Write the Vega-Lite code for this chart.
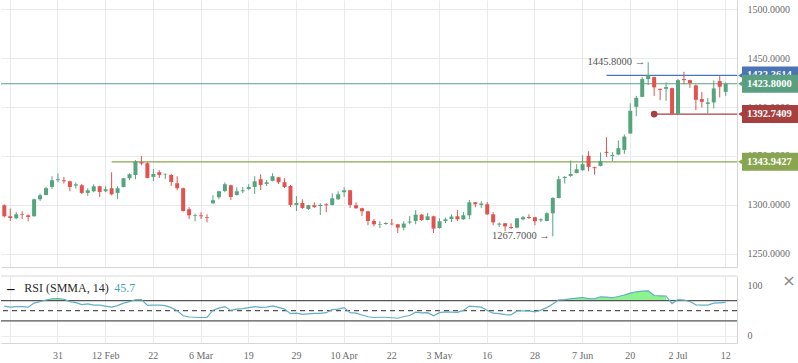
{
  "$schema": "https://vega.github.io/schema/vega-lite/v6.json",
  "padding": 0,
  "background": "white",
  "spacing": 5,
  "config": {
    "view": {"stroke": null},
    "axis": {"labelFont": "Liberation Serif", "labelFontSize": 10, "labelColor": "#6b6b6b", "gridColor": "#e8eaed", "domainColor": "#d6d6d6", "ticks": false},
    "text": {"font": "Liberation Serif"}
  },
  "datasets": {
    "bars": [
      {"d":"2019-01-18","o":1299.5,"h":1300.5,"l":1287,"c":1288.2,"r":59},
      {"d":"2019-01-21","o":1288.2,"h":1296.1,"l":1283.4,"c":1286.4,"r":57},
      {"d":"2019-01-22","o":1286.1,"h":1292.6,"l":1285.1,"c":1290.2,"r":58},
      {"d":"2019-01-23","o":1290.2,"h":1293.3,"l":1285.4,"c":1289.5,"r":58},
      {"d":"2019-01-24","o":1289.2,"h":1290.2,"l":1283.1,"c":1287.5,"r":57},
      {"d":"2019-01-25","o":1288.2,"h":1306.3,"l":1288,"c":1305.6,"r":65},
      {"d":"2019-01-28","o":1305.6,"h":1311.4,"l":1303.9,"c":1309.7,"r":68},
      {"d":"2019-01-29","o":1310,"h":1318.2,"l":1309.7,"c":1316.9,"r":71},
      {"d":"2019-01-30","o":1318.2,"h":1329.2,"l":1316.2,"c":1325.1,"r":73.5},
      {"d":"2019-01-31","o":1325.1,"h":1332.2,"l":1323,"c":1326.1,"r":74},
      {"d":"2019-02-01","o":1325.1,"h":1328.5,"l":1321.7,"c":1324,"r":72.5},
      {"d":"2019-02-04","o":1324,"h":1324.5,"l":1313.8,"c":1318.2,"r":68},
      {"d":"2019-02-05","o":1319.6,"h":1322.7,"l":1316.6,"c":1320.9,"r":66},
      {"d":"2019-02-06","o":1319.9,"h":1321.3,"l":1311,"c":1312.1,"r":62},
      {"d":"2019-02-07","o":1312.1,"h":1316.9,"l":1309,"c":1314.8,"r":63.5},
      {"d":"2019-02-08","o":1313.8,"h":1321,"l":1312.8,"c":1318.9,"r":61},
      {"d":"2019-02-11","o":1318.9,"h":1319.5,"l":1308,"c":1313.1,"r":61},
      {"d":"2019-02-12","o":1313.8,"h":1318.9,"l":1312.8,"c":1315.9,"r":59},
      {"d":"2019-02-13","o":1316.9,"h":1333.3,"l":1309.7,"c":1310.7,"r":57},
      {"d":"2019-02-14","o":1312.1,"h":1318.9,"l":1305.6,"c":1316.9,"r":60},
      {"d":"2019-02-15","o":1318.2,"h":1327.5,"l":1317.8,"c":1327.1,"r":65},
      {"d":"2019-02-18","o":1327.1,"h":1332.2,"l":1325.1,"c":1331.2,"r":68},
      {"d":"2019-02-19","o":1330.5,"h":1345.6,"l":1326.1,"c":1344.5,"r":71.5},
      {"d":"2019-02-20","o":1343.5,"h":1349.7,"l":1340.4,"c":1342.2,"r":72},
      {"d":"2019-02-21","o":1342.5,"h":1343.5,"l":1327,"c":1327.4,"r":60.5},
      {"d":"2019-02-22","o":1328.5,"h":1336.4,"l":1324,"c":1331.5,"r":61},
      {"d":"2019-02-25","o":1333.3,"h":1335.3,"l":1327.4,"c":1330.5,"r":61},
      {"d":"2019-02-26","o":1331,"h":1332.2,"l":1326.4,"c":1331.5,"r":60},
      {"d":"2019-02-27","o":1330.5,"h":1331.5,"l":1319.2,"c":1323.3,"r":56},
      {"d":"2019-02-28","o":1322,"h":1329.2,"l":1314.8,"c":1316.9,"r":50},
      {"d":"2019-03-01","o":1316.9,"h":1317.5,"l":1293,"c":1293.6,"r":40},
      {"d":"2019-03-04","o":1295.4,"h":1297.4,"l":1285.4,"c":1289.2,"r":37.5},
      {"d":"2019-03-05","o":1288.5,"h":1290.9,"l":1283.1,"c":1289.2,"r":37},
      {"d":"2019-03-06","o":1289.2,"h":1292.3,"l":1285.4,"c":1288.2,"r":36.5},
      {"d":"2019-03-07","o":1287.2,"h":1290.2,"l":1282,"c":1286.5,"r":36.5},
      {"d":"2019-03-08","o":1301.5,"h":1309.7,"l":1301,"c":1304.6,"r":51},
      {"d":"2019-03-12","o":1307.7,"h":1314.3,"l":1305.6,"c":1313.8,"r":55},
      {"d":"2019-03-13","o":1314.1,"h":1323,"l":1312.8,"c":1321,"r":58},
      {"d":"2019-03-14","o":1319.9,"h":1320.5,"l":1304.9,"c":1308,"r":50.5},
      {"d":"2019-03-15","o":1310,"h":1317.9,"l":1309.5,"c":1313.8,"r":53},
      {"d":"2019-03-18","o":1313.8,"h":1318.2,"l":1312.1,"c":1314.8,"r":54},
      {"d":"2019-03-19","o":1316.2,"h":1321,"l":1314.8,"c":1318.2,"r":56},
      {"d":"2019-03-20","o":1318.2,"h":1329.2,"l":1311,"c":1324,"r":58},
      {"d":"2019-03-21","o":1326.1,"h":1331.2,"l":1315.1,"c":1320.3,"r":56.5},
      {"d":"2019-03-22","o":1321.3,"h":1325.1,"l":1319.2,"c":1323,"r":57},
      {"d":"2019-03-25","o":1324.4,"h":1332.2,"l":1324,"c":1329.2,"r":59.5},
      {"d":"2019-03-26","o":1328.1,"h":1328.5,"l":1321.3,"c":1323,"r":56.5},
      {"d":"2019-03-27","o":1323,"h":1327.1,"l":1317.2,"c":1318.2,"r":53},
      {"d":"2019-03-28","o":1319.2,"h":1320.3,"l":1297.7,"c":1299.8,"r":44},
      {"d":"2019-03-29","o":1299.8,"h":1308.7,"l":1293.6,"c":1301.8,"r":45},
      {"d":"2019-04-01","o":1301.8,"h":1305.6,"l":1295.7,"c":1296.7,"r":42.5},
      {"d":"2019-04-02","o":1295.7,"h":1300,"l":1294.6,"c":1299.5,"r":43.5},
      {"d":"2019-04-03","o":1299.5,"h":1302.5,"l":1296.7,"c":1297.7,"r":44.5},
      {"d":"2019-04-04","o":1298.7,"h":1301.5,"l":1289.5,"c":1299.8,"r":44.5},
      {"d":"2019-04-05","o":1300.5,"h":1301.5,"l":1292.3,"c":1299.5,"r":46},
      {"d":"2019-04-08","o":1299.8,"h":1311.7,"l":1299.3,"c":1306.6,"r":52},
      {"d":"2019-04-09","o":1305.6,"h":1313.8,"l":1305,"c":1310.7,"r":53},
      {"d":"2019-04-10","o":1312.8,"h":1317.9,"l":1308,"c":1314.8,"r":56},
      {"d":"2019-04-11","o":1314.8,"h":1315.3,"l":1296.7,"c":1299.8,"r":46},
      {"d":"2019-04-12","o":1299.5,"h":1302.5,"l":1296,"c":1296.4,"r":45},
      {"d":"2019-04-15","o":1296.4,"h":1297,"l":1288.5,"c":1293.3,"r":41.5},
      {"d":"2019-04-16","o":1293.3,"h":1294,"l":1279,"c":1283.4,"r":38},
      {"d":"2019-04-17","o":1283.4,"h":1285.4,"l":1277.9,"c":1280,"r":36.5},
      {"d":"2019-04-18","o":1279.7,"h":1283.1,"l":1276.2,"c":1280.3,"r":37},
      {"d":"2019-04-19","o":1280.3,"h":1282,"l":1279.5,"c":1281.3,"r":37},
      {"d":"2019-04-22","o":1280.7,"h":1285.4,"l":1279,"c":1280,"r":36},
      {"d":"2019-04-23","o":1280,"h":1280.5,"l":1271.1,"c":1276.6,"r":35},
      {"d":"2019-04-24","o":1276.6,"h":1283.1,"l":1273.8,"c":1280.7,"r":38.5},
      {"d":"2019-04-25","o":1281.8,"h":1288.5,"l":1280,"c":1282.8,"r":40.5},
      {"d":"2019-04-29","o":1283.4,"h":1294.6,"l":1280,"c":1289.9,"r":47},
      {"d":"2019-04-30","o":1289.9,"h":1290.5,"l":1283.5,"c":1284.4,"r":45.5},
      {"d":"2019-05-01","o":1284.4,"h":1291.6,"l":1284,"c":1288.2,"r":46},
      {"d":"2019-05-02","o":1288.2,"h":1288.8,"l":1271.1,"c":1275.6,"r":40},
      {"d":"2019-05-03","o":1276.2,"h":1286.1,"l":1275.6,"c":1283.1,"r":46},
      {"d":"2019-05-06","o":1283.4,"h":1286.9,"l":1281.3,"c":1285.1,"r":47.5},
      {"d":"2019-05-07","o":1285.4,"h":1290.2,"l":1282.3,"c":1287.9,"r":47},
      {"d":"2019-05-08","o":1288.2,"h":1294.6,"l":1283.4,"c":1285.1,"r":46.5},
      {"d":"2019-05-09","o":1285.1,"h":1292.6,"l":1284.5,"c":1289.2,"r":50.5},
      {"d":"2019-05-13","o":1289.2,"h":1304.9,"l":1285.4,"c":1302.5,"r":59},
      {"d":"2019-05-14","o":1302.5,"h":1303,"l":1297.4,"c":1300.5,"r":58},
      {"d":"2019-05-15","o":1299.8,"h":1303.6,"l":1296.7,"c":1301.2,"r":57},
      {"d":"2019-05-16","o":1300.5,"h":1302.8,"l":1289.7,"c":1290.2,"r":50.5},
      {"d":"2019-05-17","o":1290.2,"h":1292.3,"l":1279,"c":1282,"r":45},
      {"d":"2019-05-20","o":1279.7,"h":1282,"l":1277.2,"c":1280.7,"r":44},
      {"d":"2019-05-21","o":1281,"h":1281.5,"l":1273.1,"c":1277.9,"r":42},
      {"d":"2019-05-22","o":1277.2,"h":1281,"l":1275.2,"c":1276.2,"r":41.5},
      {"d":"2019-05-23","o":1276.6,"h":1286.6,"l":1276,"c":1286.1,"r":49.5},
      {"d":"2019-05-24","o":1285.1,"h":1288.5,"l":1284.1,"c":1287.2,"r":49.7},
      {"d":"2019-05-27","o":1287.5,"h":1290.2,"l":1285.4,"c":1286.5,"r":49.7},
      {"d":"2019-05-28","o":1287.2,"h":1287.7,"l":1279,"c":1283.1,"r":47.5},
      {"d":"2019-05-29","o":1284.1,"h":1286.1,"l":1282.3,"c":1285.1,"r":51},
      {"d":"2019-05-30","o":1283.4,"h":1292.3,"l":1283,"c":1291.3,"r":56},
      {"d":"2019-05-31","o":1291.3,"h":1307.7,"l":1267.7,"c":1306.9,"r":63},
      {"d":"2019-06-03","o":1306.9,"h":1329.5,"l":1306.5,"c":1326.1,"r":71.4},
      {"d":"2019-06-04","o":1327.4,"h":1329.5,"l":1321.7,"c":1328.5,"r":72},
      {"d":"2019-06-05","o":1329.5,"h":1345.3,"l":1328.5,"c":1331.5,"r":73.5},
      {"d":"2019-06-06","o":1332.5,"h":1341.5,"l":1332,"c":1336.3,"r":74.8},
      {"d":"2019-06-07","o":1335.3,"h":1350.7,"l":1335,"c":1341.5,"r":76},
      {"d":"2019-06-10","o":1350,"h":1354.8,"l":1334.3,"c":1338.7,"r":73.8},
      {"d":"2019-06-11","o":1338.4,"h":1339,"l":1330.9,"c":1337.4,"r":73.5},
      {"d":"2019-06-12","o":1339.7,"h":1353.5,"l":1339.2,"c":1344.5,"r":77.4},
      {"d":"2019-06-13","o":1354.1,"h":1369.1,"l":1348.9,"c":1353.1,"r":76.7},
      {"d":"2019-06-17","o":1350,"h":1353.8,"l":1344.5,"c":1351,"r":75.5},
      {"d":"2019-06-18","o":1351.4,"h":1365.8,"l":1351,"c":1357.9,"r":78},
      {"d":"2019-06-19","o":1356.1,"h":1371.9,"l":1352,"c":1369.8,"r":81},
      {"d":"2019-06-20","o":1372.9,"h":1403.7,"l":1372.5,"c":1396.1,"r":84.7},
      {"d":"2019-06-21","o":1400.2,"h":1411.4,"l":1390.6,"c":1409.4,"r":87.3},
      {"d":"2019-06-24","o":1410.4,"h":1430.6,"l":1410,"c":1428.6,"r":88.5},
      {"d":"2019-06-25","o":1428.6,"h":1445.8,"l":1422.4,"c":1432.7,"r":89},
      {"d":"2019-06-26","o":1430.6,"h":1431,"l":1411.4,"c":1420.1,"r":80},
      {"d":"2019-06-27","o":1418.6,"h":1419,"l":1407,"c":1417.6,"r":79.4},
      {"d":"2019-06-28","o":1418.6,"h":1425.2,"l":1406.3,"c":1420.4,"r":79},
      {"d":"2019-07-01","o":1419.3,"h":1419.8,"l":1392.4,"c":1393,"r":64},
      {"d":"2019-07-02","o":1393,"h":1428.6,"l":1392.7,"c":1427.5,"r":72},
      {"d":"2019-07-03","o":1428.6,"h":1436,"l":1423.4,"c":1427.5,"r":71},
      {"d":"2019-07-04","o":1427.5,"h":1428,"l":1419.6,"c":1424.5,"r":68},
      {"d":"2019-07-05","o":1422.1,"h":1423.1,"l":1396.8,"c":1407.4,"r":61.5},
      {"d":"2019-07-08","o":1408.1,"h":1415.5,"l":1399.6,"c":1405.3,"r":61},
      {"d":"2019-07-09","o":1403.2,"h":1409.1,"l":1393.4,"c":1404.7,"r":61},
      {"d":"2019-07-10","o":1404.7,"h":1427.2,"l":1398.5,"c":1419,"r":64.9},
      {"d":"2019-07-11","o":1426.5,"h":1431.6,"l":1409.8,"c":1420.7,"r":65.5},
      {"d":"2019-07-12","o":1415.5,"h":1425.2,"l":1411.4,"c":1423.8,"r":66.2}
    ],
    "levels": [
      {"lvl":"olive","p":1343.9427,"d":"2019-02-13"},
      {"lvl":"red","p":1392.7409,"d":"2019-06-26"},
      {"lvl":"blue","p":1432.3614,"d":"2019-06-13"}
    ],
    "current": [{"p":1423.8}],
    "notes": [
      {"d":"2019-06-25","p":1445.8,"t":"1445.8000 →"},
      {"d":"2019-05-31","p":1267.7,"t":"1267.7000 →"}
    ],
    "badges": [
      {"lvl":"blue","p":1432.3614,"t":"1432.3614"},
      {"lvl":"green","p":1423.8,"t":"1423.8000"},
      {"lvl":"red","p":1392.7409,"t":"1392.7409"},
      {"lvl":"olive","p":1343.9427,"t":"1343.9427"}
    ],
    "one": [{"k":1}]
  },
  "vconcat": [
    {
      "width": 736,
      "height": 267,
      "layer": [
        {
          "data": {"name": "levels"},
          "mark": {"type": "rule", "strokeWidth": 1.2},
          "encoding": {
            "x": {"field": "d", "type": "ordinal", "scale": {"type": "band", "paddingInner": 0, "paddingOuter": 0.725, "align": 0.037},
                  "axis": {"orient": "bottom", "values": ["2019-01-21","2019-01-31","2019-02-12","2019-02-22","2019-03-06","2019-03-19","2019-03-29","2019-04-10","2019-04-22","2019-05-03","2019-05-16","2019-05-28","2019-06-07","2019-06-20","2019-07-02","2019-07-12"], "labels": false, "ticks": false, "grid": true, "bandPosition": 0.5, "domain": true, "title": null}},
            "x2": {"value": "width"},
            "y": {"field": "p", "type": "quantitative", "scale": {"domain": [1236.3, 1509.5], "nice": false, "zero": false},
                  "axis": {"orient": "right", "values": [1250, 1300, 1350, 1400, 1450, 1500], "format": ".4f", "labelPadding": 10, "ticks": false, "grid": true, "domain": true, "title": null}},
            "color": {"field": "lvl", "type": "nominal", "scale": {"domain": ["blue", "green", "red", "olive"], "range": ["#4a74b3", "#5a9f7f", "#a83f3f", "#8aa54f"]}, "legend": null}
          }
        },
        {
          "data": {"name": "current"},
          "mark": {"type": "rule", "strokeWidth": 1.2, "color": "#5a9f7f"},
          "encoding": {
            "y": {"field": "p", "type": "quantitative", "scale": {"domain": [1236.3, 1509.5], "nice": false, "zero": false},
                  "axis": {"orient": "right", "values": [1250, 1300, 1350, 1400, 1450, 1500], "format": ".4f", "labelPadding": 10, "ticks": false, "grid": true, "domain": true, "title": null}}
          }
        },
        {
          "data": {"name": "bars"},
          "mark": {"type": "rule", "strokeWidth": 1},
          "encoding": {
            "x": {"field": "d", "type": "ordinal", "scale": {"type": "band", "paddingInner": 0, "paddingOuter": 0.725, "align": 0.037},
                  "axis": {"orient": "bottom", "values": ["2019-01-21","2019-01-31","2019-02-12","2019-02-22","2019-03-06","2019-03-19","2019-03-29","2019-04-10","2019-04-22","2019-05-03","2019-05-16","2019-05-28","2019-06-07","2019-06-20","2019-07-02","2019-07-12"], "labels": false, "ticks": false, "grid": true, "bandPosition": 0.5, "domain": true, "title": null}},
            "y": {"field": "l", "type": "quantitative", "scale": {"domain": [1236.3, 1509.5], "nice": false, "zero": false},
                  "axis": {"orient": "right", "values": [1250, 1300, 1350, 1400, 1450, 1500], "format": ".4f", "labelPadding": 10, "ticks": false, "grid": true, "domain": true, "title": null}},
            "y2": {"field": "h"},
            "color": {"condition": {"test": "datum.c >= datum.o", "value": "#55a47e"}, "value": "#e0534f"}
          }
        },
        {
          "data": {"name": "bars"},
          "mark": {"type": "bar", "size": 4},
          "encoding": {
            "x": {"field": "d", "type": "ordinal", "scale": {"type": "band", "paddingInner": 0, "paddingOuter": 0.725, "align": 0.037},
                  "axis": {"orient": "bottom", "values": ["2019-01-21","2019-01-31","2019-02-12","2019-02-22","2019-03-06","2019-03-19","2019-03-29","2019-04-10","2019-04-22","2019-05-03","2019-05-16","2019-05-28","2019-06-07","2019-06-20","2019-07-02","2019-07-12"], "labels": false, "ticks": false, "grid": true, "bandPosition": 0.5, "domain": true, "title": null}},
            "y": {"field": "o", "type": "quantitative", "scale": {"domain": [1236.3, 1509.5], "nice": false, "zero": false},
                  "axis": {"orient": "right", "values": [1250, 1300, 1350, 1400, 1450, 1500], "format": ".4f", "labelPadding": 10, "ticks": false, "grid": true, "domain": true, "title": null}},
            "y2": {"field": "c"},
            "color": {"condition": {"test": "datum.c >= datum.o", "value": "#55a47e"}, "value": "#e0534f"}
          }
        },
        {
          "data": {"name": "levels"},
          "transform": [{"filter": "datum.lvl == 'red'"}],
          "mark": {"type": "point", "filled": true, "size": 45, "opacity": 1, "color": "#a83f3f"},
          "encoding": {
            "x": {"field": "d", "type": "ordinal", "scale": {"type": "band", "paddingInner": 0, "paddingOuter": 0.725, "align": 0.037},
                  "axis": {"orient": "bottom", "values": ["2019-01-21","2019-01-31","2019-02-12","2019-02-22","2019-03-06","2019-03-19","2019-03-29","2019-04-10","2019-04-22","2019-05-03","2019-05-16","2019-05-28","2019-06-07","2019-06-20","2019-07-02","2019-07-12"], "labels": false, "ticks": false, "grid": true, "bandPosition": 0.5, "domain": true, "title": null}},
            "y": {"field": "p", "type": "quantitative", "scale": {"domain": [1236.3, 1509.5], "nice": false, "zero": false},
                  "axis": {"orient": "right", "values": [1250, 1300, 1350, 1400, 1450, 1500], "format": ".4f", "labelPadding": 10, "ticks": false, "grid": true, "domain": true, "title": null}}
          }
        },
        {
          "data": {"name": "notes"},
          "mark": {"type": "text", "align": "right", "baseline": "middle", "dx": -3, "fontSize": 10.5, "color": "#555555"},
          "encoding": {
            "x": {"field": "d", "type": "ordinal", "scale": {"type": "band", "paddingInner": 0, "paddingOuter": 0.725, "align": 0.037},
                  "axis": {"orient": "bottom", "values": ["2019-01-21","2019-01-31","2019-02-12","2019-02-22","2019-03-06","2019-03-19","2019-03-29","2019-04-10","2019-04-22","2019-05-03","2019-05-16","2019-05-28","2019-06-07","2019-06-20","2019-07-02","2019-07-12"], "labels": false, "ticks": false, "grid": true, "bandPosition": 0.5, "domain": true, "title": null}},
            "y": {"field": "p", "type": "quantitative", "scale": {"domain": [1236.3, 1509.5], "nice": false, "zero": false},
                  "axis": {"orient": "right", "values": [1250, 1300, 1350, 1400, 1450, 1500], "format": ".4f", "labelPadding": 10, "ticks": false, "grid": true, "domain": true, "title": null}},
            "text": {"field": "t"}
          }
        },
        {
          "data": {"name": "badges"},
          "transform": [{"filter": "datum.lvl == 'blue'"}],
          "mark": {"type": "rect", "xOffset": 5, "x2Offset": 62, "yOffset": -9, "y2Offset": 9},
          "encoding": {"x": {"value": "width"}, "x2": {"value": "width"},
                       "y": {"field": "p", "type": "quantitative", "scale": {"domain": [1236.3, 1509.5], "nice": false, "zero": false},
                             "axis": {"orient": "right", "values": [1250, 1300, 1350, 1400, 1450, 1500], "format": ".4f", "labelPadding": 10, "ticks": false, "grid": true, "domain": true, "title": null}},
                       "y2": {"field": "p"},
                       "color": {"field": "lvl", "type": "nominal", "legend": null}}
        },
        {
          "data": {"name": "badges"},
          "transform": [{"filter": "datum.lvl == 'blue'"}],
          "mark": {"type": "point", "shape": "triangle-left", "filled": true, "opacity": 1, "size": 80, "xOffset": 5},
          "encoding": {"x": {"value": "width"},
                       "y": {"field": "p", "type": "quantitative", "scale": {"domain": [1236.3, 1509.5], "nice": false, "zero": false},
                             "axis": {"orient": "right", "values": [1250, 1300, 1350, 1400, 1450, 1500], "format": ".4f", "labelPadding": 10, "ticks": false, "grid": true, "domain": true, "title": null}},
                       "color": {"field": "lvl", "type": "nominal", "legend": null}}
        },
        {
          "data": {"name": "badges"},
          "transform": [{"filter": "datum.lvl == 'blue'"}],
          "mark": {"type": "text", "align": "left", "baseline": "middle", "dx": 10, "fontSize": 10.5, "fontWeight": "bold", "color": "white"},
          "encoding": {"x": {"value": "width"},
                       "y": {"field": "p", "type": "quantitative", "scale": {"domain": [1236.3, 1509.5], "nice": false, "zero": false},
                             "axis": {"orient": "right", "values": [1250, 1300, 1350, 1400, 1450, 1500], "format": ".4f", "labelPadding": 10, "ticks": false, "grid": true, "domain": true, "title": null}},
                       "text": {"field": "t"}}
        },
        {
          "data": {"name": "badges"},
          "transform": [{"filter": "datum.lvl != 'blue'"}],
          "mark": {"type": "rect", "xOffset": 5, "x2Offset": 62, "yOffset": -9, "y2Offset": 9},
          "encoding": {"x": {"value": "width"}, "x2": {"value": "width"},
                       "y": {"field": "p", "type": "quantitative", "scale": {"domain": [1236.3, 1509.5], "nice": false, "zero": false},
                             "axis": {"orient": "right", "values": [1250, 1300, 1350, 1400, 1450, 1500], "format": ".4f", "labelPadding": 10, "ticks": false, "grid": true, "domain": true, "title": null}},
                       "y2": {"field": "p"},
                       "color": {"field": "lvl", "type": "nominal", "legend": null}}
        },
        {
          "data": {"name": "badges"},
          "transform": [{"filter": "datum.lvl != 'blue'"}],
          "mark": {"type": "point", "shape": "triangle-left", "filled": true, "opacity": 1, "size": 80, "xOffset": 5},
          "encoding": {"x": {"value": "width"},
                       "y": {"field": "p", "type": "quantitative", "scale": {"domain": [1236.3, 1509.5], "nice": false, "zero": false},
                             "axis": {"orient": "right", "values": [1250, 1300, 1350, 1400, 1450, 1500], "format": ".4f", "labelPadding": 10, "ticks": false, "grid": true, "domain": true, "title": null}},
                       "color": {"field": "lvl", "type": "nominal", "legend": null}}
        },
        {
          "data": {"name": "badges"},
          "transform": [{"filter": "datum.lvl != 'blue'"}],
          "mark": {"type": "text", "align": "left", "baseline": "middle", "dx": 10, "fontSize": 10.5, "fontWeight": "bold", "color": "white"},
          "encoding": {"x": {"value": "width"},
                       "y": {"field": "p", "type": "quantitative", "scale": {"domain": [1236.3, 1509.5], "nice": false, "zero": false},
                             "axis": {"orient": "right", "values": [1250, 1300, 1350, 1400, 1450, 1500], "format": ".4f", "labelPadding": 10, "ticks": false, "grid": true, "domain": true, "title": null}},
                       "text": {"field": "t"}}
        }
      ]
    },
    {
      "width": 736,
      "height": 67,
      "layer": [
        {
          "data": {"name": "bars"},
          "transform": [{"filter": "datum.r >= 70 && datum.d >= '2019-01-25' && datum.d <= '2019-02-04'"}],
          "mark": {"type": "area", "color": "#8ef28e", "opacity": 1},
          "encoding": {
            "x": {"field": "d", "type": "ordinal", "scale": {"type": "band", "paddingInner": 0, "paddingOuter": 0.725, "align": 0.037},
                  "axis": {"orient": "bottom", "values": ["2019-01-21","2019-01-31","2019-02-12","2019-02-22","2019-03-06","2019-03-19","2019-03-29","2019-04-10","2019-04-22","2019-05-03","2019-05-16","2019-05-28","2019-06-07","2019-06-20","2019-07-02","2019-07-12"], "labelExpr": "datum.value == '2019-01-21' ? '' : (indexof(['2019-02-12','2019-03-06','2019-04-10','2019-05-03','2019-06-07','2019-07-02'], datum.value) >= 0 ? utcFormat(toDate(datum.value), '%-d %b') : utcFormat(toDate(datum.value), '%-d'))", "labelPadding": 7, "labelAngle": 0, "ticks": false, "grid": true, "bandPosition": 0.5, "domain": true, "title": null}},
            "y": {"field": "r", "type": "quantitative", "scale": {"domain": [-13.9, 118.5], "nice": false, "zero": false},
                  "axis": {"orient": "right", "values": [0, 100], "labelPadding": 10, "ticks": false, "grid": true, "gridOpacity": {"condition": {"test": "datum.value == 0", "value": 1}, "value": 0}, "domain": true, "title": null}},
            "y2": {"datum": 70}
          }
        },
        {
          "data": {"name": "bars"},
          "transform": [{"filter": "datum.r >= 70 && datum.d >= '2019-02-15' && datum.d <= '2019-02-21'"}],
          "mark": {"type": "area", "color": "#8ef28e", "opacity": 1},
          "encoding": {
            "x": {"field": "d", "type": "ordinal", "scale": {"type": "band", "paddingInner": 0, "paddingOuter": 0.725, "align": 0.037},
                  "axis": {"orient": "bottom", "values": ["2019-01-21","2019-01-31","2019-02-12","2019-02-22","2019-03-06","2019-03-19","2019-03-29","2019-04-10","2019-04-22","2019-05-03","2019-05-16","2019-05-28","2019-06-07","2019-06-20","2019-07-02","2019-07-12"], "labelExpr": "datum.value == '2019-01-21' ? '' : (indexof(['2019-02-12','2019-03-06','2019-04-10','2019-05-03','2019-06-07','2019-07-02'], datum.value) >= 0 ? utcFormat(toDate(datum.value), '%-d %b') : utcFormat(toDate(datum.value), '%-d'))", "labelPadding": 7, "labelAngle": 0, "ticks": false, "grid": true, "bandPosition": 0.5, "domain": true, "title": null}},
            "y": {"field": "r", "type": "quantitative", "scale": {"domain": [-13.9, 118.5], "nice": false, "zero": false},
                  "axis": {"orient": "right", "values": [0, 100], "labelPadding": 10, "ticks": false, "grid": true, "gridOpacity": {"condition": {"test": "datum.value == 0", "value": 1}, "value": 0}, "domain": true, "title": null}},
            "y2": {"datum": 70}
          }
        },
        {
          "data": {"name": "bars"},
          "transform": [{"filter": "datum.r >= 70 && datum.d >= '2019-06-01' && datum.d <= '2019-06-28'"}],
          "mark": {"type": "area", "color": "#8ef28e", "opacity": 1},
          "encoding": {
            "x": {"field": "d", "type": "ordinal", "scale": {"type": "band", "paddingInner": 0, "paddingOuter": 0.725, "align": 0.037},
                  "axis": {"orient": "bottom", "values": ["2019-01-21","2019-01-31","2019-02-12","2019-02-22","2019-03-06","2019-03-19","2019-03-29","2019-04-10","2019-04-22","2019-05-03","2019-05-16","2019-05-28","2019-06-07","2019-06-20","2019-07-02","2019-07-12"], "labelExpr": "datum.value == '2019-01-21' ? '' : (indexof(['2019-02-12','2019-03-06','2019-04-10','2019-05-03','2019-06-07','2019-07-02'], datum.value) >= 0 ? utcFormat(toDate(datum.value), '%-d %b') : utcFormat(toDate(datum.value), '%-d'))", "labelPadding": 7, "labelAngle": 0, "ticks": false, "grid": true, "bandPosition": 0.5, "domain": true, "title": null}},
            "y": {"field": "r", "type": "quantitative", "scale": {"domain": [-13.9, 118.5], "nice": false, "zero": false},
                  "axis": {"orient": "right", "values": [0, 100], "labelPadding": 10, "ticks": false, "grid": true, "gridOpacity": {"condition": {"test": "datum.value == 0", "value": 1}, "value": 0}, "domain": true, "title": null}},
            "y2": {"datum": 70}
          }
        },
        {
          "data": {"name": "one"},
          "mark": {"type": "rule", "color": "#d6d6d6", "strokeWidth": 1},
          "encoding": {"y": {"datum": 118.5, "type": "quantitative", "scale": {"domain": [-13.9, 118.5], "nice": false, "zero": false},
                             "axis": {"orient": "right", "values": [0, 100], "labelPadding": 10, "ticks": false, "grid": true, "gridOpacity": {"condition": {"test": "datum.value == 0", "value": 1}, "value": 0}, "domain": true, "title": null}}}
        },
        {
          "data": {"name": "one"},
          "mark": {"type": "rule", "color": "#555555", "strokeWidth": 1.2},
          "encoding": {"y": {"datum": 70, "type": "quantitative", "scale": {"domain": [-13.9, 118.5], "nice": false, "zero": false},
                             "axis": {"orient": "right", "values": [0, 100], "labelPadding": 10, "ticks": false, "grid": true, "gridOpacity": {"condition": {"test": "datum.value == 0", "value": 1}, "value": 0}, "domain": true, "title": null}}}
        },
        {
          "data": {"name": "one"},
          "mark": {"type": "rule", "color": "#555555", "strokeWidth": 1.2},
          "encoding": {"y": {"datum": 30, "type": "quantitative", "scale": {"domain": [-13.9, 118.5], "nice": false, "zero": false},
                             "axis": {"orient": "right", "values": [0, 100], "labelPadding": 10, "ticks": false, "grid": true, "gridOpacity": {"condition": {"test": "datum.value == 0", "value": 1}, "value": 0}, "domain": true, "title": null}}}
        },
        {
          "data": {"name": "one"},
          "mark": {"type": "rule", "color": "#555555", "strokeWidth": 1.1, "strokeDash": [5, 4]},
          "encoding": {"y": {"datum": 50, "type": "quantitative", "scale": {"domain": [-13.9, 118.5], "nice": false, "zero": false},
                             "axis": {"orient": "right", "values": [0, 100], "labelPadding": 10, "ticks": false, "grid": true, "gridOpacity": {"condition": {"test": "datum.value == 0", "value": 1}, "value": 0}, "domain": true, "title": null}}}
        },
        {
          "data": {"name": "bars"},
          "mark": {"type": "line", "color": "#62aec6", "strokeWidth": 1.2},
          "encoding": {
            "x": {"field": "d", "type": "ordinal", "scale": {"type": "band", "paddingInner": 0, "paddingOuter": 0.725, "align": 0.037},
                  "axis": {"orient": "bottom", "values": ["2019-01-21","2019-01-31","2019-02-12","2019-02-22","2019-03-06","2019-03-19","2019-03-29","2019-04-10","2019-04-22","2019-05-03","2019-05-16","2019-05-28","2019-06-07","2019-06-20","2019-07-02","2019-07-12"], "labelExpr": "datum.value == '2019-01-21' ? '' : (indexof(['2019-02-12','2019-03-06','2019-04-10','2019-05-03','2019-06-07','2019-07-02'], datum.value) >= 0 ? utcFormat(toDate(datum.value), '%-d %b') : utcFormat(toDate(datum.value), '%-d'))", "labelPadding": 7, "labelAngle": 0, "ticks": false, "grid": true, "bandPosition": 0.5, "domain": true, "title": null}},
            "y": {"field": "r", "type": "quantitative", "scale": {"domain": [-13.9, 118.5], "nice": false, "zero": false},
                  "axis": {"orient": "right", "values": [0, 100], "labelPadding": 10, "ticks": false, "grid": true, "gridOpacity": {"condition": {"test": "datum.value == 0", "value": 1}, "value": 0}, "domain": true, "title": null}}
          }
        },
        {
          "data": {"name": "one"},
          "mark": {"type": "text", "text": "–", "align": "center", "baseline": "middle", "dx": 6.5, "fontSize": 15, "fontWeight": "bold", "color": "#111111"},
          "encoding": {
            "x": {"datum": "2019-01-18", "type": "ordinal", "scale": {"type": "band", "paddingInner": 0, "paddingOuter": 0.725, "align": 0.037},
                  "axis": {"orient": "bottom", "values": ["2019-01-21","2019-01-31","2019-02-12","2019-02-22","2019-03-06","2019-03-19","2019-03-29","2019-04-10","2019-04-22","2019-05-03","2019-05-16","2019-05-28","2019-06-07","2019-06-20","2019-07-02","2019-07-12"], "labelExpr": "datum.value == '2019-01-21' ? '' : (indexof(['2019-02-12','2019-03-06','2019-04-10','2019-05-03','2019-06-07','2019-07-02'], datum.value) >= 0 ? utcFormat(toDate(datum.value), '%-d %b') : utcFormat(toDate(datum.value), '%-d'))", "labelPadding": 7, "labelAngle": 0, "ticks": false, "grid": true, "bandPosition": 0.5, "domain": true, "title": null}},
            "y": {"datum": 95, "type": "quantitative", "scale": {"domain": [-13.9, 118.5], "nice": false, "zero": false},
                  "axis": {"orient": "right", "values": [0, 100], "labelPadding": 10, "ticks": false, "grid": true, "gridOpacity": {"condition": {"test": "datum.value == 0", "value": 1}, "value": 0}, "domain": true, "title": null}}
          }
        },
        {
          "data": {"name": "one"},
          "mark": {"type": "text", "text": "RSI (SMMA, 14)", "align": "left", "baseline": "middle", "dx": 20, "fontSize": 12, "color": "#2b2b2b"},
          "encoding": {
            "x": {"datum": "2019-01-18", "type": "ordinal", "scale": {"type": "band", "paddingInner": 0, "paddingOuter": 0.725, "align": 0.037},
                  "axis": {"orient": "bottom", "values": ["2019-01-21","2019-01-31","2019-02-12","2019-02-22","2019-03-06","2019-03-19","2019-03-29","2019-04-10","2019-04-22","2019-05-03","2019-05-16","2019-05-28","2019-06-07","2019-06-20","2019-07-02","2019-07-12"], "labelExpr": "datum.value == '2019-01-21' ? '' : (indexof(['2019-02-12','2019-03-06','2019-04-10','2019-05-03','2019-06-07','2019-07-02'], datum.value) >= 0 ? utcFormat(toDate(datum.value), '%-d %b') : utcFormat(toDate(datum.value), '%-d'))", "labelPadding": 7, "labelAngle": 0, "ticks": false, "grid": true, "bandPosition": 0.5, "domain": true, "title": null}},
            "y": {"datum": 94.5, "type": "quantitative", "scale": {"domain": [-13.9, 118.5], "nice": false, "zero": false},
                  "axis": {"orient": "right", "values": [0, 100], "labelPadding": 10, "ticks": false, "grid": true, "gridOpacity": {"condition": {"test": "datum.value == 0", "value": 1}, "value": 0}, "domain": true, "title": null}}
          }
        },
        {
          "data": {"name": "one"},
          "mark": {"type": "text", "text": "45.7", "align": "left", "baseline": "middle", "dx": 110, "fontSize": 12, "color": "#4aa3bf"},
          "encoding": {
            "x": {"datum": "2019-01-18", "type": "ordinal", "scale": {"type": "band", "paddingInner": 0, "paddingOuter": 0.725, "align": 0.037},
                  "axis": {"orient": "bottom", "values": ["2019-01-21","2019-01-31","2019-02-12","2019-02-22","2019-03-06","2019-03-19","2019-03-29","2019-04-10","2019-04-22","2019-05-03","2019-05-16","2019-05-28","2019-06-07","2019-06-20","2019-07-02","2019-07-12"], "labelExpr": "datum.value == '2019-01-21' ? '' : (indexof(['2019-02-12','2019-03-06','2019-04-10','2019-05-03','2019-06-07','2019-07-02'], datum.value) >= 0 ? utcFormat(toDate(datum.value), '%-d %b') : utcFormat(toDate(datum.value), '%-d'))", "labelPadding": 7, "labelAngle": 0, "ticks": false, "grid": true, "bandPosition": 0.5, "domain": true, "title": null}},
            "y": {"datum": 94.5, "type": "quantitative", "scale": {"domain": [-13.9, 118.5], "nice": false, "zero": false},
                  "axis": {"orient": "right", "values": [0, 100], "labelPadding": 10, "ticks": false, "grid": true, "gridOpacity": {"condition": {"test": "datum.value == 0", "value": 1}, "value": 0}, "domain": true, "title": null}}
          }
        },
        {
          "data": {"name": "one"},
          "mark": {"type": "text", "text": "×", "align": "center", "baseline": "middle", "dx": 52, "fontSize": 16, "font": "DejaVu Sans", "color": "#8a8a8a"},
          "encoding": {
            "x": {"value": "width"},
            "y": {"datum": 109, "type": "quantitative", "scale": {"domain": [-13.9, 118.5], "nice": false, "zero": false},
                  "axis": {"orient": "right", "values": [0, 100], "labelPadding": 10, "ticks": false, "grid": true, "gridOpacity": {"condition": {"test": "datum.value == 0", "value": 1}, "value": 0}, "domain": true, "title": null}}
          }
        }
      ]
    }
  ]
}
